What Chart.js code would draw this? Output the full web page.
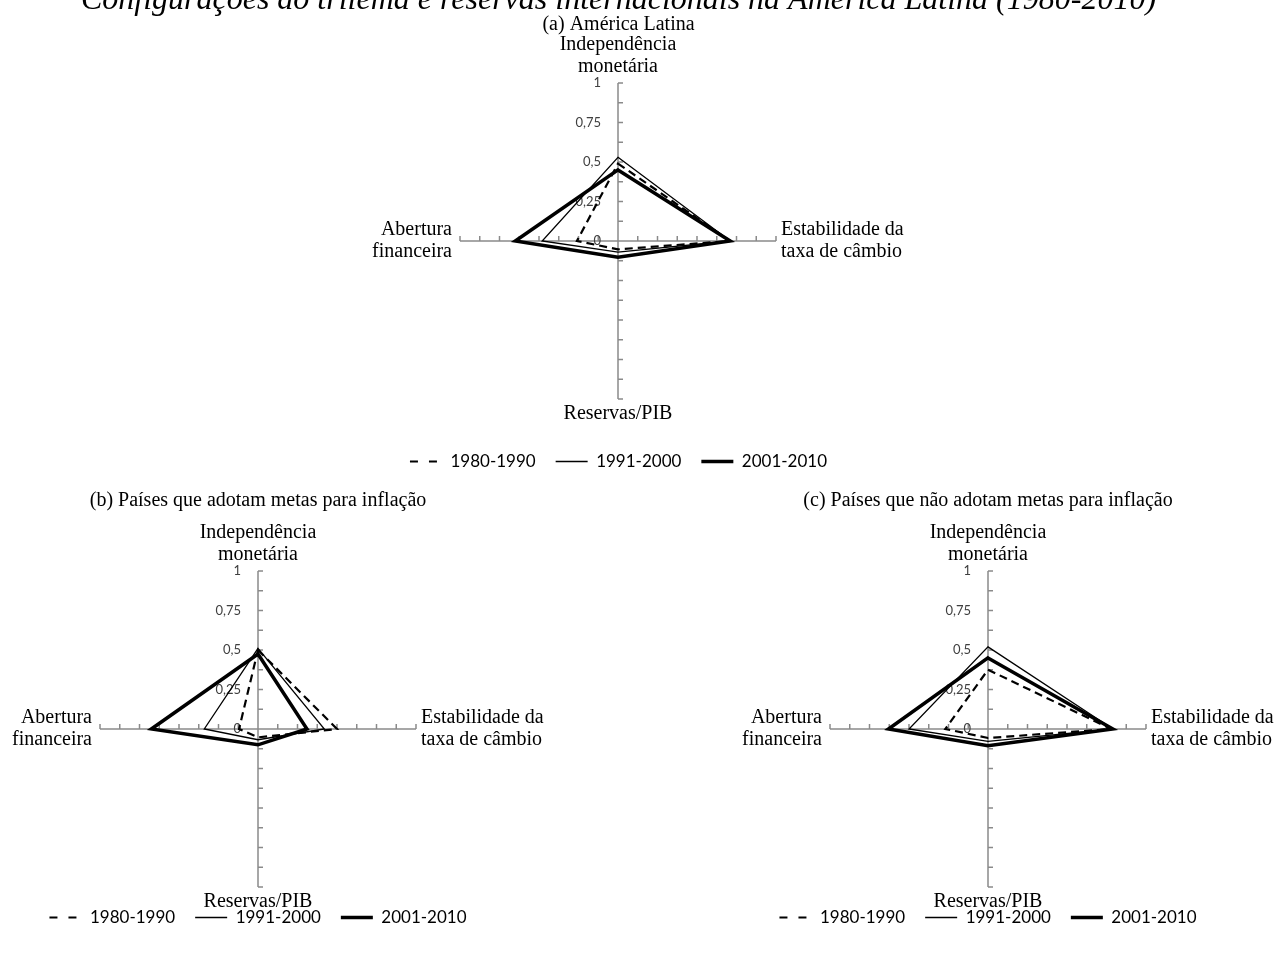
<!DOCTYPE html>
<html lang="pt">
<head>
<meta charset="utf-8">
<title>Configurações do trilema e reservas internacionais na América Latina (1980-2010)</title>
<script src="https://cdn.jsdelivr.net/npm/chart.js@4.4.1/dist/chart.umd.min.js"></script>
<style>
    html, body {
        margin: 0;
        padding: 0;
        background: #ffffff;
        overflow: hidden;
    }
    .page {
        position: relative;
        width: 1287px;
        height: 953px;
        overflow: hidden;
    }
    canvas {
        position: absolute;
    }
    #chartA { left: -25px; top: -11px; }
    #chartB { left: -42px; top: 480px; }
    #chartC { left: 689px; top: 480px; }
</style>
</head>
<body>
<div class="page">
    <canvas id="chartA" width="1287" height="491"></canvas>
    <canvas id="chartB" width="600" height="456"></canvas>
    <canvas id="chartC" width="598" height="456"></canvas>
</div>

<script>
// Axis names (clockwise from the top)
const axisLabels = [
    ['Independência', 'monetária'],
    ['Estabilidade da', 'taxa de câmbio'],
    ['Reservas/PIB'],
    ['Abertura', 'financeira']
];
const periods = ['1980-1990', '1991-2000', '2001-2010'];

// Value axis
const tickValues = [0, 0.25, 0.5, 0.75, 1];
const tickLabels = ['0', '0,25', '0,5', '0,75', '1'];

// (a) América Latina
const latam8090 = [0.49, 0.71, 0.053, 0.26];
const latam9100 = [0.53, 0.71, 0.07, 0.48];
const latam0110 = [0.45, 0.71, 0.103, 0.65];

// (b) Países que adotam metas para inflação
const metas8090 = [0.50, 0.50, 0.053, 0.12];
const metas9100 = [0.51, 0.42, 0.068, 0.34];
const metas0110 = [0.475, 0.31, 0.10, 0.675];

// (c) Países que não adotam metas para inflação
const semMetas8090 = [0.375, 0.78, 0.057, 0.27];
const semMetas9100 = [0.52, 0.79, 0.078, 0.50];
const semMetas0110 = [0.45, 0.79, 0.106, 0.63];

const serif = "'Liberation Serif', 'Times New Roman', serif";
const sans = "Lato, 'Open Sans', sans-serif";
const axisColor = '#8a8a8a';

// Tick marks, value labels and axis names drawn around the radial scale
const radarDecor = {
    id: 'radarDecor',
    beforeDatasetsDraw(chart) {
        const scale = chart.scales.r;
        const ctx = chart.ctx;
        ctx.save();
        ctx.strokeStyle = axisColor;
        ctx.lineWidth = 1.5;
        scale.ticks.forEach(tick => {
            if (tick.value === 0) return;
            for (let i = 0; i < axisLabels.length; i++) {
                const p = scale.getPointPositionForValue(i, tick.value);
                const angle = scale.getIndexAngle(i) - Math.PI / 2;
                const tx = Math.abs(Math.sin(angle));
                const ty = -Math.abs(Math.cos(angle));
                ctx.beginPath();
                ctx.moveTo(p.x, p.y);
                ctx.lineTo(p.x + tx * 5, p.y + ty * 5);
                ctx.stroke();
            }
        });
        ctx.fillStyle = '#404040';
        ctx.font = '13px ' + sans;
        ctx.textAlign = 'right';
        ctx.textBaseline = 'middle';
        tickValues.forEach((v, k) => {
            const p = scale.getPointPositionForValue(0, v);
            ctx.fillText(tickLabels[k], p.x - 17, p.y);
        });
        ctx.restore();
    },
    afterDraw(chart) {
        const scale = chart.scales.r;
        const ctx = chart.ctx;
        const lh = 22;
        ctx.save();
        ctx.fillStyle = '#000000';
        ctx.font = '20px ' + serif;
        axisLabels.forEach((lines, i) => {
            const angle = scale.getIndexAngle(i) - Math.PI / 2;
            const p = scale.getPointPosition(i, scale.drawingArea);
            const c = Math.cos(angle);
            const s = Math.sin(angle);
            if (Math.abs(s) > 0.5) {
                ctx.textAlign = 'center';
                ctx.textBaseline = 'alphabetic';
                lines.forEach((line, k) => {
                    const y = s < 0 ? p.y - 11 - (lines.length - 1 - k) * lh : p.y + 20 + k * lh;
                    ctx.fillText(line, p.x, y);
                });
            } else {
                ctx.textAlign = c > 0 ? 'left' : 'right';
                ctx.textBaseline = 'middle';
                const x = p.x + (c > 0 ? 5 : -8);
                lines.forEach((line, k) => {
                    ctx.fillText(line, x, p.y + (k - (lines.length - 1) / 2) * lh);
                });
            }
        });
        ctx.restore();
    }
};

function makeDatasets(p1, p2, p3) {
    const base = { borderColor: '#000000', backgroundColor: 'transparent', fill: false, pointRadius: 0, pointHoverRadius: 0, tension: 0 };
    return [
        Object.assign({ label: periods[0], data: p1, borderWidth: 2.2, borderDash: [8, 5] }, base),
        Object.assign({ label: periods[1], data: p2, borderWidth: 1.3 }, base),
        Object.assign({ label: periods[2], data: p3, borderWidth: 3.5 }, base)
    ];
}

// Legend samples take the line style of each dataset
function legendLabels(chart) {
    const items = Chart.defaults.plugins.legend.labels.generateLabels(chart);
    items.forEach(item => {
        const ds = chart.data.datasets[item.datasetIndex];
        item.lineDash = ds.borderDash ? [8, 11] : [];
        item.lineWidth = ds.borderWidth;
        item.strokeStyle = ds.borderColor;
    });
    return items;
}

function makeRadar(id, datasets, titleCfg, subtitleCfg, legendGap) {
    const ctx = document.getElementById(id).getContext('2d');
    return new Chart(ctx, {
        type: 'radar',
        data: {
            labels: axisLabels,
            datasets: datasets
        },
        options: {
            responsive: false,
            animation: false,
            events: [],
            devicePixelRatio: 1,
            layout: { padding: 0 },
            plugins: {
                title: titleCfg,
                subtitle: subtitleCfg,
                tooltip: { enabled: false },
                legend: {
                    position: 'bottom',
                    title: { display: true, text: '', font: { size: 1 }, padding: { top: legendGap, bottom: 0 } },
                    labels: {
                        usePointStyle: true,
                        pointStyle: 'line',
                        pointStyleWidth: 32,
                        padding: 20,
                        color: '#000000',
                        font: { family: sans, size: 17 },
                        generateLabels: legendLabels
                    }
                }
            },
            scales: {
                r: {
                    min: 0,
                    max: 1,
                    ticks: { display: false, stepSize: 0.125 },
                    grid: { display: false },
                    angleLines: { display: true, color: axisColor, lineWidth: 1.5 },
                    pointLabels: { display: false }
                }
            }
        },
        plugins: [radarDecor]
    });
}

function panelTitle(text, top, bottom) {
    return {
        display: true,
        text: text,
        color: '#000000',
        font: { family: serif, size: 20, weight: 'normal', lineHeight: 1.1 },
        padding: { top: top, bottom: bottom }
    };
}

document.addEventListener('DOMContentLoaded', () => {
    // (a) with the figure title above it (its top is cut off by the page edge)
    makeRadar('chartA', makeDatasets(latam8090, latam9100, latam0110), {
        display: true,
        text: 'Configurações do trilema e reservas internacionais na América Latina (1980-2010)',
        color: '#000000',
        font: { family: serif, size: 32, style: 'italic', weight: 'normal', lineHeight: 0.7 },
        padding: { top: 0, bottom: 0 }
    }, panelTitle('(a) América Latina', 1.85, 48.45), 31.6);

    makeRadar('chartB', makeDatasets(metas8090, metas9100, metas0110),
        panelTitle('(b) Países que adotam metas para inflação', 9.25, 59.75), { display: false }, 0.3);

    makeRadar('chartC', makeDatasets(semMetas8090, semMetas9100, semMetas0110),
        panelTitle('(c) Países que não adotam metas para inflação', 9.25, 59.75), { display: false }, 0.3);
});
</script>
</body>
</html>
